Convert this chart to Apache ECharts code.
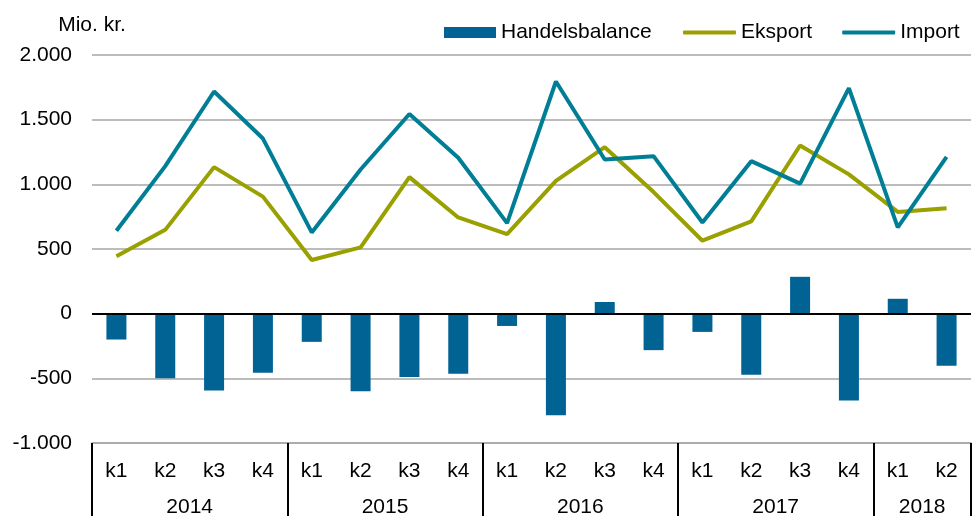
<!DOCTYPE html>
<html>
<head>
<meta charset="utf-8">
<script src="https://cdn.jsdelivr.net/npm/echarts@6/dist/echarts.min.js"></script>
<style>
  html, body { margin: 0; padding: 0; background: #fff; }
  #chart { width: 974px; height: 518px; }
</style>
</head>
<body>
<div id="chart"></div>
<script>
// kvartaler og år
const quarters = ['k1', 'k2', 'k3', 'k4', 'k1', 'k2', 'k3', 'k4', 'k1', 'k2', 'k3', 'k4', 'k1', 'k2', 'k3', 'k4', 'k1', 'k2'];
const years = ['2014', '2015', '2016', '2017', '2018'];
const quartersPerYear = [4, 4, 4, 4, 2];

// Mio. kr.
const handelsbalance = [-200, -500, -595, -456, -218, -600, -490, -464, -95, -785, 90, -282, -141, -472, 285, -672, 115, -403];
const eksport = [444, 648, 1133, 905, 415, 513, 1056, 744, 615, 1026, 1287, 940, 564, 713, 1300, 1077, 787, 815];
const importData = [641, 1141, 1718, 1354, 628, 1115, 1544, 1205, 700, 1795, 1192, 1218, 705, 1179, 1005, 1744, 667, 1213];

const yTicks = { min: -1000, max: 2000, interval: 500 };

// grænser mellem år og midtpunkter til årstal
let yearStarts = [];
let yearCenters = {};
let acc = 0;
years.forEach(function (y, i) {
    yearStarts.push(acc);
    yearCenters[acc + quartersPerYear[i] / 2] = y;
    acc += quartersPerYear[i];
});

const font = 'Liberation Sans, Arial, sans-serif';
const fontSize = 21;

const colBar = '#006394';
const colEks = '#99a000';
const colImp = '#007e95';

function fmt(v) {
    let s = Math.abs(v).toString().replace(/\B(?=(\d{3})+(?!\d))/g, '.');
    return (v < 0 ? '-' : '') + s;
}

let chart = echarts.init(document.getElementById('chart'));

let legendText = { fontFamily: font, fontSize: fontSize, color: '#000' };

let option = {
    animation: false,
    textStyle: { fontFamily: font, color: '#000' },
    grid: { left: 92, right: 0, top: 55, bottom: 73, containLabel: false },
    legend: [
        {
            left: 439,
            top: 17,
            itemWidth: 52,
            itemHeight: 11,
            icon: 'rect',
            textStyle: legendText,
            data: ['Handelsbalance']
        },
        {
            left: 678,
            top: 17,
            itemWidth: 53,
            itemHeight: 4,
            itemGap: 30,
            icon: 'roundRect',
            textStyle: legendText,
            data: ['Eksport', 'Import']
        }
    ],
    xAxis: [
        {
            type: 'category',
            data: quarters,
            position: 'bottom',
            axisLine: { show: true, onZero: false, lineStyle: { color: '#a6a6a6', width: 1.5 } },
            axisTick: {
                show: true,
                length: 73,
                lineStyle: { color: '#000', width: 2 },
                interval: function (index) {
                    return yearStarts.indexOf(index) >= 0;
                }
            },
            axisLabel: { margin: 18, fontFamily: font, fontSize: fontSize, color: '#000', interval: 0 }
        },
        {
            type: 'value',
            min: 0,
            max: quarters.length,
            interval: 1,
            position: 'bottom',
            axisLine: { show: false },
            axisTick: { show: false },
            splitLine: { show: false },
            axisLabel: {
                margin: 54,
                fontFamily: font,
                fontSize: fontSize,
                color: '#000',
                formatter: function (v) { return yearCenters[v] || ''; }
            }
        }
    ],
    yAxis: {
        type: 'value',
        min: yTicks.min,
        max: yTicks.max,
        interval: yTicks.interval,
        name: 'Mio. kr.',
        nameLocation: 'end',
        nameGap: 30,
        nameTextStyle: { fontFamily: font, fontSize: fontSize, color: '#000', verticalAlign: 'middle', align: 'center' },
        axisLine: { show: false },
        axisTick: { show: false },
        splitLine: { show: true, lineStyle: { color: '#a6a6a6', width: 1.5 } },
        axisLabel: { margin: 20, fontFamily: font, fontSize: fontSize, color: '#000', formatter: fmt }
    },
    series: [
        {
            name: 'Handelsbalance',
            type: 'bar',
            data: handelsbalance,
            barWidth: 20,
            itemStyle: { color: colBar },
            markLine: {
                silent: true,
                symbol: 'none',
                label: { show: false },
                lineStyle: { color: '#000', width: 2, type: 'solid' },
                data: [{ yAxis: 0 }]
            },
            z: 2
        },
        {
            name: 'Eksport',
            type: 'line',
            data: eksport,
            showSymbol: false,
            symbol: 'none',
            lineStyle: { color: colEks, width: 4 },
            itemStyle: { color: colEks },
            z: 3
        },
        {
            name: 'Import',
            type: 'line',
            data: importData,
            showSymbol: false,
            symbol: 'none',
            lineStyle: { color: colImp, width: 4 },
            itemStyle: { color: colImp },
            z: 4
        }
    ]
};

chart.setOption(option);
</script>
</body>
</html>
